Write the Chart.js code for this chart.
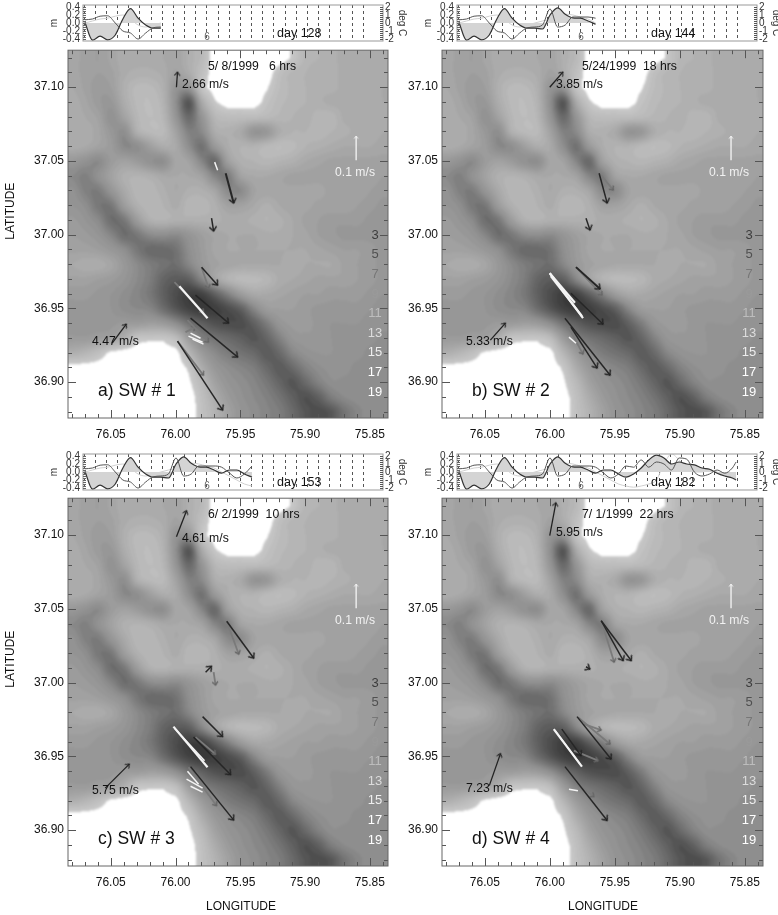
<!DOCTYPE html>
<html><head><meta charset="utf-8">
<script src="https://cdn.jsdelivr.net/npm/chart.js@4"></script>
<style>html,body{margin:0;padding:0;background:#fff;width:778px;height:915px;overflow:hidden}
#w{position:relative;width:778px;height:915px}
canvas{position:absolute;display:block}</style></head>
<body><div id="w"></div>
<script>
// ---------- bathymetry (m), rows north to south ----------
const depthLon=[76.08,76.07,76.06,76.05,76.04,76.03,76.02,76.01,76.00,75.99,75.98,75.97,75.96,75.95,75.94,75.93,75.92,75.91,75.90,75.89,75.88,75.87,75.86,75.85,75.84];
const depthLat=[37.12,37.11,37.10,37.09,37.08,37.07,37.06,37.05,37.04,37.03,37.02,37.01,37.00,36.99,36.98,36.97,36.96,36.95,36.94,36.93,36.92,36.91,36.90,36.89,36.88];
const depthGrid=[
[6.5,7,7.5,6.5,5.5,5.5,5.5,6,6.5,5,3.5,0,0,0,0,0,0,1.5,4,4.5,5,5.5,5.5,5.5,6],
[6.5,7,7.5,7,5.5,5,5,5.5,7,5.5,2.5,0,0,0,0,0,2.5,4,4.5,5,5,5.5,5.5,5.5,5.5],
[6,7,8,7.5,5,3.5,3.5,5,9,9,2,0,0,0,0,1,3,4,4.5,5,5,5.5,5.5,5.5,6],
[5.5,6.5,8,8.5,5.5,3.5,3,4.5,10,16,6,1.5,0,0,0,2,3.5,4,4.5,5,5.5,5.5,5.5,5.5,6],
[5.5,6,7,9.5,7,4,3,4,9,14,9,4,3,3,3,3.5,4,4.5,5,4,4,5.5,5.5,5.5,6],
[5.5,5.5,6.5,8.5,10,5,3.5,3.5,7,11.5,10.5,5.5,5,6,9,8.5,5.5,4.5,4.5,4,4.5,5,5.5,5.5,6],
[5.5,6,7,8,10.5,10,7.5,5.5,6,10,13,8.5,5.5,4.5,4.5,3.5,3,3.5,4.5,5,5.5,6,6,6,6.5],
[8.5,9.5,10.5,8,7,8,9.5,10,6.5,7,11,14,7.5,5,4.5,4,4.5,5,6,6.5,7,7,7,7,7],
[10.5,11.5,9.5,7,5,4.5,5,6,6,6,7,11,12,7,6,6,6.5,7,7,7,7,7,7,7,7.5],
[9.5,11.5,12,9,6,4,4,5,6,5,5,6.5,10.5,10.5,7,6.5,6.5,6.5,6.5,6.5,7,7,7,7.5,8],
[9,10,12.5,12.5,8,5,4,4.5,5.5,4,4,5,7,7,6,5,6,6.5,6.5,7,7,7,7.5,8,8.5],
[8,9,10.5,13.5,12.5,8,5,4.5,5,5,5,5,5.5,5.5,5,4.5,5,6,7,7.5,8,8,8,8.5,8.5],
[7.5,8,9,11,13.5,12.5,10.5,10,10.5,9,7.5,6.5,6,6,6,5.5,5.5,6,6.5,7.5,8,8.5,8.5,8.5,8.5],
[7,7,7.5,8.5,10,12.5,14,14,13,10,8,6.5,6,6,6,6,6,6,6,6.5,7,7.5,7.5,8,8.5],
[6,5.5,5.5,6.5,8.5,10.5,12,13,13.5,11,8.5,7,6.5,6,6,6,6,5.5,6,6,6,7,7.5,8,8.5],
[7,7,7.5,8,9,10.5,12,14.5,15.5,15,11,7,4.5,3.5,3.5,4,5.5,6,6.5,7,7,7,7.5,8,8.5],
[8,8,8.5,9,10,11,12.5,15,17,18.5,18,15,11.5,8,6,6,6.5,7,7.5,7.5,8,8,8,8.5,9],
[8.5,8.5,8.5,9,10,10.5,11,13.5,16,18,19,18.5,17,15,11,8,7.5,7.5,8,8.5,8.5,8.5,8.5,9,9.5],
[8.5,8.5,8.5,8.5,8,8,7.5,8,10,13,15,16.5,17,17,15,12,9,8,8,8.5,9,9,9,9.5,9.5],
[8,8,7.5,7,5,1.8,1.5,1.5,3,8,11.5,13,14,15,16,14.5,11.5,9,8.5,8.5,9,9.5,9.5,9.5,10],
[5,4,2.5,0.5,0,0,0,0,0.3,4,8,10.5,12,13,14,15.5,14,11,9.5,9,9,9.5,9.5,10,10],
[0,0,0,0,0,0,0,0,0,1.5,5.5,8.5,10,11,12,14,15.5,14,11.5,10,9.5,9.5,10,10,10],
[0,0,0,0,0,0,0,0,0,0.8,3.5,7,9,10,11,12.5,14.5,16,14,11.5,10,10,10,10,10],
[0,0,0,0,0,0,0,0,0,0,2.5,5.5,8,9.5,10.5,11.5,13,15,16.5,15,12,10.5,10,10,10],
[0,0,0,0,0,0,0,0,0,0,2.2,4.5,7,9,10,11,12,14,16,17,16,13,11,10,10]];

// ---------- tide / temperature strip ----------
const stripDays=[109,111,113,115,117,119,121,123,125,127,129,131,133,135,137,139,141,143,145,147,149,151,153,155,157,159,161,163,165,167,169,171,173,175,177,179,181,182];
const seaLevel=[0.02,-0.43,-0.33,-0.42,-0.3,0.1,0.36,0.12,-0.05,-0.13,-0.13,-0.15,0.2,0.38,0.22,0.13,0.12,0.05,-0.03,0.05,0.05,-0.05,-0.13,-0.05,0.1,0.3,0.42,0.35,0.2,0.25,0.2,0.18,0.1,0.07,-0.03,-0.1,-0.15,-0.2];
const thinSeries=[0.08,0.1,0.17,0.18,0,-0.2,-0.25,-0.4,-0.25,-0.12,-0.1,-0.05,0.35,-0.1,-0.05,0.15,0.15,0.15,0.12,-0.02,-0.15,-0.05,0.15,0.12,0.3,0.12,0.25,0.2,0.05,0.35,0.32,0,-0.1,-0.05,0.05,-0.03,0.1,0.25];
const faintSeries=[0,0.05,0.1,0.12,0.17,0.2,0.1,-0.05,-0.1,-0.05,0,0.05,0.1,0.2,0.22,0.2,0.15,0.1,0,-0.1,-0.2,-0.3,-0.35,-0.38,-0.35,-0.3,-0.2,0.2,0.45,0.3,0.1,0,0,0.05,0,-0.05,-0.1,-0.1];
const stripEnd=[129,145,153,182];
const stripDayLabel=['day 128','day 144','day 153','day 182'];
const mTicks=[0.4,0.2,0,-0.2,-0.4];
const degTicks=[2,1,0,-1,-2];

// ---------- vectors [lon0,lat0,lon1,lat1] ----------
const windA=[[75.9993,37.0999,75.9985,37.1101],[76.0489,36.9263,76.0380,36.9392]];
const darkA=[[75.9613,37.0416,75.9551,37.0213],[75.9722,37.0111,75.9706,37.0023],[75.9799,36.9779,75.9675,36.9657],[75.9884,36.9433,75.9520,36.9169],[75.9985,36.9277,75.9636,36.8809],[75.9846,36.9589,75.9590,36.9399]];
const grayA=[[76.0008,36.9677,75.9784,36.9470],[75.9799,36.9779,75.9745,36.9636],[75.9908,36.9419,75.9745,36.9270],[75.9985,36.9277,75.9784,36.9046],[75.9923,36.9338,75.9846,36.9372]];
const whiteA=[[75.9970,36.9650,75.9753,36.9433],[75.9884,36.9331,75.9807,36.9297],[75.9900,36.9311,75.9791,36.9270],[75.9869,36.9291,75.9784,36.9257],[75.9698,37.0491,75.9675,37.0436]];
const windB=[[76.0001,37.0999,75.9900,37.1101],[76.0458,36.9284,76.0342,36.9399]];
const darkB=[[75.9799,36.9779,75.9613,36.9630],[75.9621,37.0416,75.9559,37.0213],[75.9722,37.0111,75.9691,37.0030],[75.9838,36.9602,75.9590,36.9392],[75.9884,36.9433,75.9536,36.9046],[75.9838,36.9372,75.9636,36.9094]];
const grayB=[[75.9799,36.9779,75.9598,36.9589],[75.9605,37.0402,75.9512,37.0301],[75.9853,36.9365,75.9745,36.9189]];
const whiteB=[[76.0001,36.9738,75.9745,36.9433],[75.9993,36.9718,75.9753,36.9447],[76.0001,36.9738,75.9807,36.9538],[75.9853,36.9304,75.9799,36.9263]];
const windC=[[75.9993,37.0989,75.9915,37.1165],[76.0543,36.9284,76.0357,36.9447]];
const darkC=[[75.9605,37.0416,75.9396,37.0165],[75.9791,36.9769,75.9636,36.9633],[75.9861,36.9630,75.9574,36.9375],[75.9884,36.9430,75.9551,36.9067],[75.9768,37.0070,75.9722,37.0111]];
const grayC=[[75.9605,37.0416,75.9512,37.0192],[75.9706,37.0070,75.9691,36.9982],[75.9846,36.9630,75.9691,36.9514],[75.9900,36.9426,75.9683,36.9165]];
const whiteC=[[76.0016,36.9701,75.9753,36.9426],[76.0008,36.9690,75.9776,36.9470],[75.9908,36.9399,75.9822,36.9311],[75.9915,36.9345,75.9791,36.9284],[75.9884,36.9297,75.9791,36.9257]];
const windD=[[76.0001,37.0996,75.9954,37.1219],[76.0466,36.9301,76.0380,36.9518]];
const darkD=[[75.9791,36.9769,75.9528,36.9480],[75.9605,37.0419,75.9373,37.0148],[75.9605,37.0419,75.9435,37.0148],[75.9722,37.0107,75.9691,37.0091],[75.9908,36.9684,75.9760,36.9504],[75.9884,36.9430,75.9559,36.9064]];
const grayD=[[75.9784,36.9765,75.9536,36.9582],[75.9737,36.9718,75.9605,36.9677],[75.9605,37.0419,75.9505,37.0138],[75.9815,36.9538,75.9629,36.9470],[75.9822,36.9335,75.9660,36.9226]];
const whiteD=[[75.9970,36.9684,75.9753,36.9430],[75.9962,36.9677,75.9768,36.9447],[75.9853,36.9277,75.9784,36.9267]];
const scaleVector=[75.8606,37.0504,75.8606,37.0667];

const lonTicks=depthLon, latTicks=depthLat;
const dateLabels=['5/ 8/1999   6 hrs','5/24/1999  18 hrs','6/ 2/1999  10 hrs','7/ 1/1999  22 hrs'];
const windLabels=[['2.66 m/s','4.47 m/s'],['3.85 m/s','5.33 m/s'],['4.61 m/s','5.75 m/s'],['5.95 m/s','7.23 m/s']];
const panelNames=['a) SW # 1','b) SW # 2','c) SW # 3','d) SW # 4'];
const contourLabels=['3','5','7','9','11','13','15','17','19'];

// ---------- layout ----------
const FONT='"Liberation Sans",Arial,sans-serif';
const contourColors=['#3c3c3c','#505050','#777','#9a9a9a','#bdbdbd','#dcdcdc','#eee','#fff','#fff'];
const host=document.getElementById('w');
function mk(l,t,w,h){const c=document.createElement('canvas');c.style.left=l+'px';c.style.top=t+'px';c.width=w;c.height=h;c.style.width=w+'px';c.style.height=h+'px';host.appendChild(c);return c;}
function vee(col,lw,s){const c=document.createElement('canvas');c.width=16;c.height=16;const g=c.getContext('2d');g.strokeStyle=col;g.lineWidth=lw;g.lineJoin='miter';g.beginPath();g.moveTo(8-s*.8,8+s);g.lineTo(8,8);g.lineTo(8+s*.8,8+s);g.stroke();return c;}
const heads={dark:vee('#222',1.4,4.5),gray:vee('#666',1.4,3.5),white:vee('#f4f4f4',1,2.5),wind:vee('#222',1.2,3.5),none:vee('rgba(0,0,0,0)',1,1)};
function vecDS(v,col,w,head,hr){return {data:[{x:v[0],y:v[1]},{x:v[2],y:v[3]}],showLine:true,borderColor:col,borderWidth:w,fill:false,tension:0,
  pointRadius:[0,hr||8],pointHoverRadius:0,pointStyle:heads[head],
  pointRotation:ctx=>{const s=ctx.chart.scales;if(!s.x||!s.y)return 0;const dx=s.x.getPixelForValue(v[2])-s.x.getPixelForValue(v[0]),dy=s.y.getPixelForValue(v[3])-s.y.getPixelForValue(v[1]);return Math.atan2(dx,-dy)*180/Math.PI;}};}

function cr(p0,p1,p2,p3,t){return 0.5*(2*p1+(p2-p0)*t+(2*p0-5*p1+4*p2-p3)*t*t+(3*p1-p0-3*p2+p3)*t*t*t);}
function depthAt(lon,lat){
  let fx=(depthLon[0]-lon)/0.01, fy=(depthLat[0]-lat)/0.01;
  const nx=depthLon.length,ny=depthLat.length;
  fx=Math.max(0,Math.min(nx-1.001,fx));fy=Math.max(0,Math.min(ny-1.001,fy));
  const i=Math.floor(fx),j=Math.floor(fy),a=fx-i,b=fy-j;
  const bil=depthGrid[j][i]*(1-a)*(1-b)+depthGrid[j][i+1]*a*(1-b)+depthGrid[j+1][i]*(1-a)*b+depthGrid[j+1][i+1]*a*b;
  if(bil<1.2)return 0;
  const rows=[];
  for(let r=-1;r<=2;r++){const R=depthGrid[Math.max(0,Math.min(ny-1,j+r))];
    rows.push(cr(R[Math.max(0,i-1)],R[i],R[i+1],R[Math.min(nx-1,i+2)],a));}
  return Math.max(1.3,cr(rows[0],rows[1],rows[2],rows[3],b));
}
function shade(d){const q=Math.floor(d/0.75)*0.75;return Math.round(q<10?205-6.5*q:140-(q-10)*9.5);}
const fieldPlugin={id:'field',beforeDatasetDraw(chart,args){
  if(chart.data.datasets[args.index].label!=='depth')return;
  const {ctx,chartArea:a,scales:{x,y}}=chart,m=8,W=Math.round(a.width)+2*m,H=Math.round(a.height)+2*m;
  const off=document.createElement('canvas');off.width=W;off.height=H;const g=off.getContext('2d'),im=g.createImageData(W,H);
  for(let py=0;py<H;py++){const lat=y.getValueForPixel(a.top-m+py);for(let px=0;px<W;px++){
    const lon=x.getValueForPixel(a.left-m+px),d=depthAt(lon,lat);const v=d<1.2?255:shade(d);
    const k=(py*W+px)*4;im.data[k]=im.data[k+1]=im.data[k+2]=v;im.data[k+3]=255;}}
  g.putImageData(im,0,0);
  ctx.save();ctx.beginPath();ctx.rect(a.left,a.top,a.width,a.height);ctx.clip();ctx.filter='blur(1px)';ctx.drawImage(off,a.left-m,a.top-m);ctx.restore();
  return false;}};
function ticksPlugin(){return {id:'inticks',afterDatasetsDraw(chart){
  const {ctx,chartArea:a,scales:{x,y}}=chart;ctx.save();ctx.strokeStyle='#555';ctx.lineWidth=1;
  ctx.beginPath();
  lonTicks.forEach((v,i)=>{const p=Math.round(x.getPixelForValue(v))+.5,l=(Math.round(v*100)%5===0)?8:4;ctx.moveTo(p,a.bottom);ctx.lineTo(p,a.bottom-l);ctx.moveTo(p,a.top);ctx.lineTo(p,a.top+l);});
  latTicks.forEach(v=>{const p=Math.round(y.getPixelForValue(v))+.5,l=(Math.round(v*100)%5===0)?8:4;ctx.moveTo(a.left,p);ctx.lineTo(a.left+l,p);ctx.moveTo(a.right,p);ctx.lineTo(a.right-l,p);});
  ctx.stroke();ctx.strokeStyle='#666';ctx.strokeRect(a.left,a.top,a.width,a.height);ctx.restore();}};}
function textPlugin(items){return {id:'texts',afterDatasetsDraw(chart){
  const {ctx,chartArea:a}=chart;ctx.save();ctx.textBaseline='middle';
  items.forEach(t=>{ctx.save();ctx.font=t.f+'px '+FONT;ctx.fillStyle=t.c||'#111';ctx.textAlign=t.al||'left';ctx.translate(a.left+t.x,a.top+t.y);if(t.rot)ctx.rotate(t.rot);ctx.fillText(t.s,0,0);ctx.restore();});ctx.restore();}};}

function mapChart(i){
  const col=i%2,row=i>>1,dx=col?389:0,dy=row?488:40;
  const w=col?389:404,h=row?427:400;
  const axisL=col?53:68,ab=row?49:22;
  const W=[windA,windB,windC,windD][i],D=[darkA,darkB,darkC,darkD][i],G=[grayA,grayB,grayC,grayD][i],Wh=[whiteA,whiteB,whiteC,whiteD][i];
  // first dataset is painted last
  const ds=[];
  ds.push(vecDS(scaleVector,'#f6f6f6',1.3,'white',6));
  W.forEach(v=>ds.push(vecDS(v,'#222',1.3,'wind')));
  D.forEach((v,k)=>ds.push(vecDS(v,'#262626',(k===0&&i<2)?2:1.5,'dark')));
  Wh.forEach((v,k)=>ds.push(vecDS(v,'#f4f4f4',k===0||(i===1&&k<3)?2.2:1.5,'none')));
  G.forEach(v=>ds.push(vecDS(v,'#7a7a7a',1.8,'gray')));
  ds.push({label:'depth',data:depthGrid.flatMap((r,j)=>r.map((v,k)=>({x:depthLon[k],y:depthLat[j],v}))),pointRadius:0,showLine:false});
  const wy=[[84,341],[84,341],[90.5,342.5],[84.5,340.5]][i];
  const items=[
    {s:dateLabels[i],x:140,y:16,f:12.2},
    {s:windLabels[i][0],x:114,y:wy[0]-50,f:12.2},
    {s:windLabels[i][1],x:24,y:wy[1]-50,f:12.2},
    {s:'0.1 m/s',x:287,y:122,f:12.2,c:'#f2f2f2',al:'center'},
    {s:panelNames[i],x:30,y:341,f:17.5}];
  contourLabels.forEach((s,k)=>items.push({s,x:307,y:185+k*19.6,f:13,c:contourColors[k],al:'center'}));
  if(!col)items.push({s:'LATITUDE',x:-57,y:161,f:12,al:'center',rot:-Math.PI/2});
  if(row)items.push({s:'LONGITUDE',x:col?161:173,y:408,f:12,al:'center'});
  return new Chart(mk(dx,dy,w,h),{type:'scatter',data:{datasets:ds},
   plugins:[fieldPlugin,ticksPlugin(),textPlugin(items)],
   options:{responsive:false,animation:false,events:[],layout:{padding:{top:10,right:col?w-374:16,bottom:0,left:0}},
    plugins:{legend:{display:false},tooltip:{enabled:false}},
    scales:{
     x:{type:'linear',reverse:true,min:75.836,max:76.083,afterFit:s=>{s.height=ab;s.paddingLeft=0;s.paddingRight=0;},afterBuildTicks:s=>{s.ticks=lonTicks.map(value=>({value}));},
        grid:{display:false,drawTicks:false},border:{display:false},
        ticks:{autoSkip:false,maxRotation:0,padding:9,color:'#111',font:{family:FONT,size:12},callback:v=>Math.round(v*100)%5===0?v.toFixed(2):''}},
     y:{type:'linear',min:36.8756,max:37.125,afterFit:s=>{s.width=axisL;s.paddingTop=0;s.paddingBottom=0;},afterBuildTicks:s=>{s.ticks=latTicks.map(value=>({value}));},
        grid:{display:false,drawTicks:false},border:{display:false},
        ticks:{autoSkip:false,padding:4,color:'#111',font:{family:FONT,size:12},callback:v=>Math.round(v*100)%5===0?v.toFixed(2):''}}}}});
}
function stripChart(i){
  const col=i%2,row=i>>1,dx=(col?374:0)+48,dy=row?449:0;
  const idx=stripDays.map((d,k)=>k).filter(k=>stripDays[k]<=stripEnd[i]);
  const pts=a=>idx.map(k=>({x:stripDays[k],y:a[k]}));
  const gridDays=[];for(let k=0;k<26;k++)gridDays.push(108.8+k*2.94);
  const lineBase={showLine:true,pointRadius:0,cubicInterpolationMode:'monotone'};
  return new Chart(mk(dx,dy,360,44),{type:'scatter',data:{datasets:[
     {...lineBase,label:'temperature',data:pts(thinSeries),borderColor:'#555',borderWidth:1,fill:false},
     {...lineBase,label:'sea level',data:pts(seaLevel),borderColor:'#333',borderWidth:1.2,backgroundColor:'#d4d4d4',fill:{target:{value:0}}},
     {...lineBase,label:'faint',data:pts(faintSeries),borderColor:'#d0d0d0',borderWidth:1,fill:false}]},
   plugins:[{id:'stripdeco',afterDatasetsDraw(chart){const {ctx,chartArea:a,scales:{y,y2}}=chart;ctx.save();ctx.strokeStyle='#999';ctx.lineWidth=1;
       ctx.strokeRect(a.left,a.top,a.width,a.height);ctx.strokeStyle='#666';ctx.beginPath();
       for(let v=-0.4;v<=0.401;v+=0.05){const p=Math.round(y.getPixelForValue(v))+.5;ctx.moveTo(a.left,p);ctx.lineTo(a.left+3,p);}ctx.stroke();
       ctx.strokeStyle='#555';ctx.lineWidth=1.2;ctx.beginPath();for(let v=-2;v<=2.001;v+=0.25){const p=Math.round(y2.getPixelForValue(v))+.5;ctx.moveTo(a.right,p);ctx.lineTo(a.right-3,p);}ctx.stroke();ctx.restore();}},
     textPlugin([{s:stripDayLabel[i],x:194,y:29,f:12.5},{s:'6',x:124,y:32,f:10,c:'#666',al:'center'}])],
   options:{responsive:false,animation:false,events:[],layout:{padding:{top:5,bottom:3}},
    plugins:{legend:{display:false},tooltip:{enabled:false}},
    scales:{
     x:{type:'linear',min:108.5,max:187.5,afterFit:s=>{s.height=0;s.paddingLeft=0;s.paddingRight=0;},afterBuildTicks:s=>{s.ticks=gridDays.map(value=>({value}));},
        grid:{color:'#555',lineWidth:1,drawTicks:false},border:{display:false,dash:[3,3]},ticks:{display:false}},
     y:{type:'linear',min:-0.45,max:0.45,afterFit:s=>{s.width=35;s.paddingTop=0;s.paddingBottom=0;},afterBuildTicks:s=>{s.ticks=mTicks.map(value=>({value}));},
        grid:{display:false,drawTicks:false},border:{display:false},
        ticks:{autoSkip:false,padding:3,color:'#333',font:{family:FONT,size:10},callback:v=>v.toFixed(1)},
        title:{display:true,text:'m',color:'#333',font:{family:FONT,size:10},padding:0}},
     y2:{type:'linear',position:'right',min:-2.25,max:2.25,afterFit:s=>{s.width=25;s.paddingTop=0;s.paddingBottom=0;},afterBuildTicks:s=>{s.ticks=degTicks.map(value=>({value}));},
        grid:{display:false,drawTicks:false},border:{display:false},
        ticks:{autoSkip:false,padding:2,color:'#333',font:{family:FONT,size:10}},
        title:{display:true,text:'deg C',color:'#333',font:{family:FONT,size:10},padding:0}}}}});
}
[0,1,2,3].forEach(i=>{mapChart(i);stripChart(i);});
</script></body></html>
